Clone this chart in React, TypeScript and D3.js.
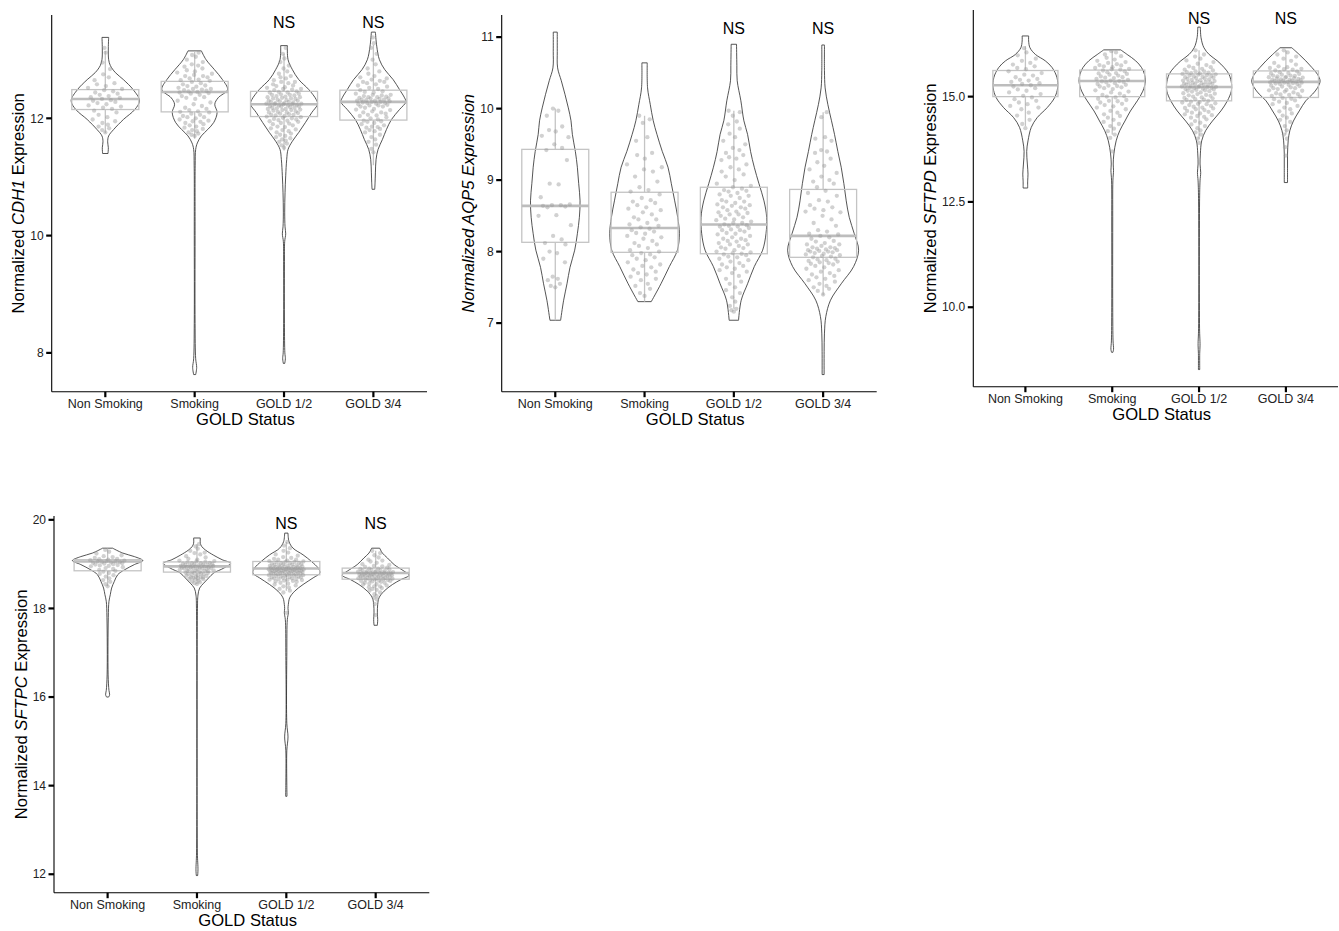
import React from 'react';
import * as d3 from 'd3';

type Prof = [number, number][];

const categories = ['Non Smoking', 'Smoking', 'GOLD 1/2', 'GOLD 3/4'];
const nsGroups = ['GOLD 1/2', 'GOLD 3/4'];
const xTitle = 'GOLD Status';

// ---------- CDH1 ----------
const cdh1Violin: Prof[] = [
  [[13.38,0.1],[13.2,0.09],[13.0,0.1],[12.9,0.15],[12.78,0.3],[12.66,0.54],[12.49,0.83],[12.3,1.02],[12.15,0.88],[11.98,0.54],[11.81,0.25],[11.7,0.1],[11.6,0.07],[11.5,0.09],[11.4,0.08]],
  [[13.15,0.2],[13.0,0.34],[12.83,0.59],[12.66,0.83],[12.49,0.98],[12.35,0.7],[12.24,0.6],[12.1,0.67],[11.93,0.57],[11.81,0.39],[11.7,0.2],[11.58,0.08],[11.47,0.03],[11.2,0.015],[10.0,0.012],[8.5,0.012],[7.9,0.03],[7.75,0.06],[7.63,0.03]],
  [[13.24,0.1],[13.0,0.12],[12.83,0.25],[12.66,0.44],[12.49,0.74],[12.32,0.96],[12.24,1.0],[12.1,0.83],[11.93,0.64],[11.76,0.44],[11.61,0.25],[11.47,0.12],[11.3,0.08],[11.02,0.05],[10.73,0.03],[10.4,0.02],[10.15,0.03],[10.03,0.05],[9.9,0.02],[9.5,0.012],[8.5,0.012],[8.0,0.025],[7.9,0.04],[7.82,0.02]],
  [[13.47,0.06],[13.23,0.1],[13.0,0.18],[12.83,0.34],[12.66,0.59],[12.49,0.78],[12.35,0.93],[12.28,0.97],[12.15,0.78],[11.98,0.54],[11.81,0.39],[11.64,0.27],[11.47,0.14],[11.3,0.08],[11.07,0.06],[10.9,0.05],[10.79,0.04]],
];
// [lower whisker, q1, median, q3, upper whisker]
const cdh1Box = [
  [11.75,12.15,12.33,12.49,13.15],
  [11.65,12.11,12.45,12.63,13.13],
  [11.45,12.03,12.24,12.46,13.1],
  [11.2,11.97,12.28,12.48,13.25],
];
const cdh1Points: number[][] = [
  [13.2,13.12,12.95,12.84,12.75,12.7,12.65,12.6,12.58,12.55,12.52,12.5,12.48,12.46,12.44,12.42,12.4,12.38,12.36,12.35,12.33,12.31,12.3,12.28,12.26,12.24,12.22,12.2,12.18,12.16,12.13,12.1,12.06,12.02,11.98,11.95,11.92,11.89,11.86,11.83,11.8,11.76],
  [13.12,13.08,13.05,13.0,12.96,12.92,12.88,12.85,12.82,12.8,12.78,12.76,12.74,12.72,12.7,12.68,12.66,12.64,12.62,12.6,12.58,12.56,12.54,12.52,12.5,12.49,12.48,12.47,12.46,12.45,12.44,12.42,12.4,12.38,12.36,12.33,12.3,12.27,12.24,12.21,12.18,12.16,12.14,12.12,12.1,12.08,12.06,12.04,12.02,12.0,11.98,11.96,11.94,11.92,11.9,11.88,11.86,11.84,11.82,11.8,11.78,11.76,11.74,11.72,11.7,12.55,12.65,12.5,12.43,12.02,11.95,12.11,12.35,12.9,12.72],
  [13.2,13.1,13.02,12.96,12.9,12.85,12.8,12.76,12.72,12.7,12.68,12.65,12.62,12.6,12.58,12.56,12.55,12.53,12.52,12.5,12.49,12.48,12.46,12.45,12.44,12.42,12.41,12.4,12.39,12.38,12.37,12.36,12.35,12.34,12.33,12.32,12.31,12.3,12.29,12.28,12.27,12.26,12.25,12.25,12.24,12.24,12.23,12.22,12.21,12.2,12.19,12.18,12.17,12.16,12.15,12.14,12.13,12.12,12.11,12.1,12.09,12.08,12.07,12.06,12.05,12.04,12.03,12.02,12.0,11.99,11.98,11.96,11.95,11.94,11.92,11.91,11.9,11.88,11.86,11.85,11.83,11.81,11.8,11.78,11.76,11.74,11.72,11.7,11.68,11.66,11.64,11.62,11.6,11.57,11.54,11.5,12.34,12.26,12.18,12.28,12.22,12.4,12.1,12.3,12.2,12.06,12.44,12.14,11.97,12.5,12.62,12.01,12.16,12.36,12.24],
  [13.38,13.28,13.2,13.1,13.0,12.92,12.85,12.8,12.76,12.72,12.68,12.66,12.64,12.62,12.6,12.58,12.56,12.54,12.52,12.5,12.48,12.46,12.44,12.42,12.4,12.39,12.38,12.37,12.36,12.35,12.34,12.33,12.32,12.31,12.3,12.29,12.28,12.27,12.26,12.25,12.24,12.23,12.22,12.2,12.18,12.16,12.14,12.12,12.1,12.08,12.06,12.04,12.02,12.0,11.98,11.96,11.94,11.92,11.9,11.88,11.86,11.84,11.82,11.8,11.78,11.76,11.72,11.68,11.64,11.6,11.55,11.48,11.42,12.3,12.26,12.34,12.22,12.45,12.15,12.05,11.95,12.28,12.4,12.62,11.85,12.7,12.2,12.36,12.1,12.32],
];
const cdh1Ticks = [8, 10, 12];
const cdh1NSY = 13.54;

// ---------- AQP5 ----------
const aqp5Violin: Prof[] = [
  [[11.07,0.06],[10.8,0.06],[10.57,0.07],[10.39,0.18],[10.2,0.29],[10.01,0.39],[9.83,0.47],[9.64,0.51],[9.4,0.6],[9.18,0.66],[8.95,0.7],[8.71,0.74],[8.48,0.72],[8.25,0.66],[8.02,0.58],[7.78,0.44],[7.55,0.35],[7.32,0.25],[7.04,0.16]],
  [[10.64,0.08],[10.29,0.09],[10.06,0.17],[9.83,0.26],[9.64,0.37],[9.4,0.53],[9.18,0.7],[8.95,0.8],[8.71,0.9],[8.48,0.99],[8.25,1.04],[8.02,0.98],[7.79,0.74],[7.55,0.49],[7.3,0.2]],
  [[10.9,0.08],[10.6,0.09],[10.39,0.1],[10.11,0.21],[9.83,0.3],[9.64,0.41],[9.4,0.5],[9.18,0.61],[8.95,0.75],[8.71,0.9],[8.48,0.98],[8.25,0.96],[8.02,0.86],[7.79,0.61],[7.55,0.41],[7.32,0.22],[7.04,0.14]],
  [[10.89,0.04],[10.53,0.04],[10.29,0.06],[10.06,0.14],[9.83,0.25],[9.64,0.34],[9.4,0.44],[9.18,0.54],[8.95,0.62],[8.71,0.69],[8.48,0.78],[8.25,0.93],[8.02,1.06],[7.79,0.91],[7.55,0.54],[7.32,0.22],[7.09,0.08],[6.86,0.04],[6.6,0.03],[6.28,0.03]],
];
const aqp5Box = [
  [7.04,8.13,8.64,9.43,10.0],
  [7.3,7.99,8.33,8.83,9.9],
  [7.2,7.97,8.38,8.9,9.97],
  [7.39,7.92,8.22,8.87,9.95],
];
const aqp5Points: number[][] = [
  [10.0,9.97,9.9,9.75,9.7,9.68,9.62,9.6,9.5,9.45,9.42,9.28,8.95,8.94,8.76,8.66,8.65,8.65,8.64,8.63,8.62,8.51,8.5,8.37,8.22,8.17,8.12,8.1,8.0,7.98,7.9,7.85,7.65,7.62,7.6,7.55,7.52,7.5],
  [9.9,9.85,9.8,9.6,9.55,9.38,9.35,9.3,9.22,9.18,9.15,9.12,9.05,8.98,8.9,8.86,8.84,8.8,8.75,8.7,8.68,8.65,8.62,8.6,8.58,8.55,8.52,8.48,8.45,8.4,8.38,8.36,8.34,8.32,8.3,8.28,8.25,8.22,8.2,8.18,8.15,8.12,8.1,8.08,8.05,8.02,8.0,7.98,7.95,7.92,7.9,7.88,7.85,7.82,7.8,7.78,7.75,7.72,7.7,7.68,7.65,7.62,7.6,7.55,7.52,7.48,7.42,7.38,8.45,8.72,7.96,8.26],
  [9.97,9.95,9.9,9.82,9.78,9.72,9.65,9.6,9.55,9.5,9.45,9.42,9.38,9.32,9.3,9.28,9.22,9.18,9.12,9.08,9.05,9.0,8.95,8.9,8.88,8.86,8.84,8.82,8.8,8.78,8.75,8.72,8.7,8.68,8.66,8.64,8.62,8.6,8.58,8.56,8.54,8.52,8.5,8.48,8.46,8.44,8.42,8.4,8.38,8.37,8.36,8.35,8.33,8.31,8.3,8.28,8.26,8.24,8.22,8.2,8.18,8.16,8.14,8.12,8.1,8.08,8.06,8.04,8.02,8.0,7.98,7.97,7.96,7.95,7.93,7.9,7.88,7.86,7.84,7.82,7.8,7.78,7.76,7.74,7.72,7.7,7.66,7.62,7.58,7.55,7.5,7.46,7.42,7.36,7.3,7.24,7.2,7.18,7.16,8.85,8.65,8.55,8.45,8.35,8.25,8.15,8.05,7.92,8.62,8.4,8.3,8.78,8.18,7.99,8.52,8.1,9.35,9.15,8.92,8.7],
  [9.95,9.88,9.6,9.58,9.55,9.42,9.4,9.38,9.25,9.2,9.15,9.1,9.05,9.0,8.98,8.95,8.85,8.82,8.78,8.72,8.7,8.65,8.6,8.58,8.56,8.55,8.5,8.4,8.36,8.3,8.28,8.25,8.22,8.2,8.18,8.15,8.12,8.1,8.08,8.06,8.05,8.04,8.03,8.02,8.01,8.0,7.99,7.98,7.97,7.96,7.95,7.93,7.92,7.9,7.88,7.87,7.86,7.85,7.84,7.82,7.8,7.78,7.76,7.74,7.72,7.7,7.68,7.66,7.64,7.62,7.6,7.58,7.55,7.52,7.5,7.48,7.45,7.4,8.0,8.02,8.06,7.94,7.89,8.14,8.24,8.45,8.62,7.83,8.9,9.3,8.1],
];
const aqp5Ticks = [7, 8, 9, 10, 11];
const aqp5NSY = 11.04;

// ---------- SFTPD ----------
const sftpdViolin: Prof[] = [
  [[16.44,0.1],[16.32,0.1],[16.16,0.14],[16.0,0.31],[15.85,0.61],[15.69,0.82],[15.45,0.97],[15.21,0.99],[14.98,0.9],[14.74,0.67],[14.5,0.36],[14.27,0.18],[13.95,0.08],[13.7,0.04],[13.4,0.06],[13.16,0.08],[13.0,0.07],[12.83,0.07]],
  [[16.11,0.26],[16.0,0.46],[15.85,0.72],[15.69,0.9],[15.53,0.99],[15.37,1.02],[15.13,0.94],[14.9,0.77],[14.66,0.56],[14.42,0.39],[14.19,0.23],[13.95,0.12],[13.64,0.05],[13.4,0.03],[13.25,0.04],[13.0,0.02],[12.0,0.015],[10.0,0.015],[9.2,0.025],[9.0,0.04],[8.93,0.02]],
  [[16.65,0.04],[16.4,0.06],[16.16,0.15],[16.0,0.31],[15.85,0.56],[15.69,0.77],[15.53,0.92],[15.29,1.0],[15.13,0.99],[14.9,0.87],[14.66,0.67],[14.42,0.41],[14.19,0.2],[13.95,0.08],[13.64,0.04],[13.4,0.03],[13.2,0.05],[13.0,0.03],[12.5,0.015],[9.5,0.015],[9.1,0.03],[8.9,0.02],[8.52,0.02]],
  [[16.16,0.18],[16.0,0.41],[15.85,0.61],[15.69,0.8],[15.53,0.97],[15.37,1.05],[15.21,0.97],[15.06,0.82],[14.9,0.61],[14.66,0.41],[14.42,0.23],[14.19,0.12],[13.95,0.07],[13.64,0.05],[13.3,0.05],[12.96,0.05]],
];
const sftpdBox = [
  [14.3,15.0,15.27,15.62,16.2],
  [14.1,15.0,15.37,15.63,16.1],
  [14.0,14.9,15.23,15.54,16.1],
  [14.1,14.98,15.35,15.61,16.1],
];
const sftpdPoints: number[][] = [
  [16.15,16.05,15.98,15.9,15.85,15.8,15.76,15.72,15.68,15.65,15.6,15.56,15.52,15.5,15.46,15.42,15.38,15.35,15.32,15.3,15.27,15.24,15.2,15.17,15.14,15.1,15.06,15.02,14.98,14.94,14.9,14.86,14.82,14.78,14.74,14.7,14.62,14.55,14.45,14.35,14.25,15.4],
  [16.08,16.05,16.0,15.96,15.92,15.88,15.85,15.82,15.8,15.77,15.74,15.72,15.7,15.68,15.66,15.64,15.62,15.6,15.58,15.56,15.54,15.52,15.5,15.48,15.46,15.44,15.42,15.4,15.38,15.37,15.36,15.34,15.32,15.3,15.28,15.26,15.24,15.22,15.2,15.18,15.15,15.12,15.1,15.07,15.04,15.01,14.98,14.95,14.92,14.89,14.86,14.83,14.8,14.77,14.74,14.7,14.66,14.62,14.58,14.54,14.5,14.45,14.4,14.35,14.3,14.24,14.18,14.1,14.02,15.45,15.55,15.65,15.35,15.25,15.75,14.9,15.0,13.7],
  [16.1,16.0,15.95,15.9,15.86,15.82,15.78,15.75,15.72,15.7,15.68,15.66,15.64,15.62,15.6,15.58,15.57,15.56,15.55,15.54,15.52,15.5,15.49,15.48,15.46,15.45,15.44,15.42,15.41,15.4,15.38,15.37,15.36,15.35,15.34,15.32,15.31,15.3,15.29,15.28,15.27,15.26,15.25,15.24,15.23,15.22,15.21,15.2,15.19,15.18,15.16,15.15,15.14,15.12,15.1,15.08,15.06,15.04,15.02,15.0,14.98,14.96,14.94,14.92,14.9,14.88,14.86,14.84,14.82,14.8,14.78,14.76,14.74,14.72,14.7,14.68,14.66,14.64,14.62,14.6,14.58,14.56,14.54,14.52,14.5,14.46,14.42,14.38,14.34,14.3,14.25,14.2,14.15,14.1,14.0,13.9,15.53,15.43,15.33,15.23,15.13,15.03,14.93,14.83,15.47,15.39,15.28,15.17,15.07,14.97,14.87,14.73,15.6,15.51,15.34,15.21],
  [16.1,16.05,16.0,15.95,15.9,15.85,15.8,15.76,15.72,15.7,15.68,15.66,15.64,15.62,15.6,15.58,15.56,15.54,15.52,15.5,15.49,15.48,15.47,15.46,15.45,15.44,15.43,15.42,15.41,15.4,15.39,15.38,15.37,15.36,15.35,15.34,15.33,15.32,15.31,15.3,15.28,15.26,15.24,15.22,15.2,15.18,15.16,15.14,15.12,15.1,15.08,15.06,15.04,15.02,15.0,14.97,14.94,14.91,14.88,14.85,14.82,14.78,14.74,14.7,14.65,14.6,14.55,14.5,14.45,14.4,14.3,14.2,14.1,14.0,13.8,13.6,15.4,15.36,15.3,15.45,15.25,15.55,15.2,15.38,15.33,15.5,15.15,14.95,15.65,15.05],
];
const sftpdTicks = [10, 12.5, 15];
const sftpdNSY = 16.72;

// ---------- SFTPC ----------
const sftpcViolin: Prof[] = [
  [[19.36,0.15],[19.25,0.45],[19.17,0.8],[19.08,1.05],[18.99,0.8],[18.87,0.5],[18.76,0.3],[18.61,0.2],[18.46,0.12],[18.31,0.08],[18.16,0.04],[17.8,0.02],[16.5,0.015],[16.15,0.04],[16.05,0.06],[16.0,0.03]],
  [[19.59,0.1],[19.47,0.1],[19.4,0.14],[19.32,0.25],[19.2,0.5],[19.1,0.75],[19.02,1.0],[18.91,0.8],[18.8,0.5],[18.69,0.35],[18.57,0.2],[18.46,0.08],[18.3,0.03],[18.0,0.015],[12.5,0.012],[12.1,0.03],[11.97,0.02]],
  [[19.7,0.05],[19.51,0.08],[19.36,0.2],[19.21,0.5],[19.06,0.75],[18.91,0.95],[18.8,1.0],[18.69,0.8],[18.54,0.5],[18.39,0.25],[18.24,0.1],[18.09,0.06],[18.0,0.05],[17.9,0.06],[17.75,0.03],[17.0,0.015],[15.4,0.015],[15.1,0.05],[14.8,0.015],[14.0,0.015],[13.76,0.02]],
  [[19.36,0.12],[19.25,0.2],[19.14,0.35],[18.99,0.55],[18.84,0.85],[18.75,1.0],[18.65,0.75],[18.54,0.5],[18.39,0.25],[18.24,0.1],[18.09,0.06],[17.9,0.05],[17.75,0.06],[17.62,0.05]],
];
const sftpcBox = [
  [18.5,18.85,19.06,19.1,19.35],
  [18.55,18.82,18.95,19.05,19.45],
  [18.4,18.76,18.9,19.06,19.5],
  [18.3,18.66,18.8,18.91,19.3],
];
const sftpcPoints: number[][] = [
  [19.32,19.28,19.24,19.2,19.18,19.16,19.14,19.12,19.11,19.1,19.09,19.08,19.07,19.06,19.05,19.05,19.04,19.03,19.02,19.01,19.0,18.99,18.98,18.97,18.96,18.95,18.93,18.91,18.89,18.87,18.85,18.83,18.8,18.78,18.75,18.72,18.68,18.64,18.6,18.55,18.5,19.06],
  [19.45,19.4,19.35,19.3,19.26,19.22,19.18,19.15,19.12,19.1,19.08,19.06,19.05,19.04,19.03,19.02,19.01,19.0,18.99,18.98,18.97,18.96,18.95,18.95,18.94,18.93,18.92,18.91,18.9,18.89,18.88,18.87,18.86,18.85,18.84,18.83,18.82,18.81,18.8,18.79,18.78,18.77,18.76,18.75,18.74,18.73,18.72,18.71,18.7,18.69,18.68,18.67,18.66,18.65,18.63,18.61,18.59,18.57,18.55,18.96,18.92,18.88,19.0,18.97,18.93,18.9,18.85,19.02,18.8,18.7,19.07,18.98,18.91,18.86,19.25],
  [19.5,19.42,19.36,19.3,19.26,19.22,19.19,19.16,19.14,19.12,19.1,19.08,19.07,19.06,19.05,19.04,19.03,19.02,19.01,19.0,18.99,18.98,18.97,18.96,18.95,18.94,18.93,18.92,18.91,18.9,18.9,18.89,18.88,18.88,18.87,18.86,18.86,18.85,18.85,18.84,18.84,18.83,18.82,18.82,18.81,18.8,18.8,18.79,18.78,18.77,18.76,18.75,18.74,18.73,18.72,18.71,18.7,18.69,18.68,18.67,18.66,18.65,18.64,18.63,18.62,18.61,18.6,18.58,18.56,18.54,18.52,18.5,18.47,18.44,18.4,18.36,18.93,18.91,18.87,18.83,18.79,18.95,18.89,18.86,18.81,18.77,19.0,18.97,18.92,18.84,18.74,18.7,18.9,18.85,18.8,18.75,19.02,18.96,18.88,18.82,18.78,18.72,18.68,18.65,19.1,19.05,18.94,18.87,17.9],
  [19.3,19.25,19.2,19.15,19.1,19.06,19.03,19.0,18.98,18.96,18.94,18.92,18.9,18.89,18.88,18.87,18.86,18.85,18.84,18.83,18.82,18.81,18.8,18.8,18.79,18.78,18.78,18.77,18.76,18.76,18.75,18.75,18.74,18.73,18.72,18.71,18.7,18.69,18.68,18.67,18.66,18.65,18.64,18.63,18.62,18.61,18.6,18.58,18.56,18.54,18.52,18.5,18.48,18.46,18.44,18.42,18.4,18.36,18.32,18.28,18.24,18.2,18.8,18.77,18.74,18.71,18.68,18.82,18.79,18.73,18.7,18.66,18.86,18.62,18.9,18.58,18.84,18.76,18.72,18.64,18.95,18.55,19.08,18.5,18.81,18.69,17.85,18.1],
];
const sftpcTicks = [12, 14, 16, 18, 20];
const sftpcNSY = 19.8;

const FONT = '"Liberation Sans", Arial, Helvetica, sans-serif';

function vdc(n: number): number {
  let v = 0, denom = 1;
  while (n > 0) { denom *= 2; v += (n % 2) / denom; n = Math.floor(n / 2); }
  return v;
}

type PanelProps = {
  left: number; right: number; top: number; bottom: number;
  violins: Prof[]; boxes: number[][]; points: number[][];
  ticks: number[]; tickFmt: (v: number) => string;
  gene: string; allItalic?: boolean; nsY: number; yTitleGap: number;
};

function Panel(p: PanelProps) {
  const { left, right, top, bottom } = p;
  const allVals = p.violins.flatMap(v => v.map(d => d[0]));
  const lo = d3.min(allVals)!, hi = d3.max(allVals)!;
  const pad = (hi - lo) * 0.05;
  const y = d3.scaleLinear().domain([lo - pad, hi + pad]).range([bottom, top]);
  const x = d3.scalePoint<string>().domain(categories).range([left, right]).padding(0.6);
  const step = x.step();
  const bh = step * 0.375;

  const elems: React.ReactNode[] = [];
  categories.forEach((c, i) => {
    const cx = x(c)!;
    const prof = p.violins[i];
    const area = d3.area<[number, number]>()
      .y(d => y(d[0]))
      .x0(d => cx - d[1] * bh)
      .x1(d => cx + d[1] * bh)
      .curve(d3.curveCatmullRom);
    const [wl, q1, med, q3, wh] = p.boxes[i];
    const asc = prof.slice().sort((a, b) => a[0] - b[0]);
    const wScale = d3.scaleLinear().domain(asc.map(d => d[0])).range(asc.map(d => d[1])).clamp(true);
    const pts = p.points[i].map((v, j) => ({ v, j })).sort((a, b) => a.v - b.v);
    elems.push(
      <g key={c}>
        <path d={area(prof) || ''} fill="none" stroke="#2a2a2a" strokeWidth={0.8} />
        <line x1={cx} x2={cx} y1={y(q3)} y2={y(wh)} stroke="#c4c4c4" strokeWidth={1.3} />
        <line x1={cx} x2={cx} y1={y(q1)} y2={y(wl)} stroke="#c4c4c4" strokeWidth={1.3} />
        <rect x={cx - bh} y={y(q3)} width={2 * bh} height={y(q1) - y(q3)} fill="none" stroke="#c4c4c4" strokeWidth={1.3} />
        <line x1={cx - bh} x2={cx + bh} y1={y(med)} y2={y(med)} stroke="#bdbdbd" strokeWidth={2.6} />
        {pts.map((pt, r) => {
          const hw = wScale(pt.v) * bh;
          const spread = Math.min(0.8 * hw, 0.2 * step);
          const off = (vdc(r + 1) * 2 - 1) * spread;
          return <circle key={r} cx={cx + off} cy={y(pt.v)} r={2.15} fill="#9a9a9a" fillOpacity={0.45} />;
        })}
      </g>
    );
  });

  const cyMid = (top + bottom) / 2;
  const titleX = left - p.yTitleGap;
  return (
    <g fontFamily={FONT}>
      {elems}
      <line x1={left} x2={left} y1={top} y2={bottom} stroke="#000" strokeWidth={1.1} />
      <line x1={left} x2={right} y1={bottom} y2={bottom} stroke="#000" strokeWidth={1.1} />
      {p.ticks.map(t => (
        <g key={t}>
          <line x1={left - 5.5} x2={left} y1={y(t)} y2={y(t)} stroke="#000" strokeWidth={2.2} />
          <text x={left - 8} y={y(t)} dy="0.35em" textAnchor="end" fontSize={12} fill="#222">{p.tickFmt(t)}</text>
        </g>
      ))}
      {categories.map(c => (
        <g key={c}>
          <line x1={x(c)!} x2={x(c)!} y1={bottom} y2={bottom + 5.5} stroke="#000" strokeWidth={2.2} />
          <text x={x(c)!} y={bottom + 16.5} textAnchor="middle" fontSize={12.5} fill="#222">{c}</text>
        </g>
      ))}
      {nsGroups.map(c => (
        <text key={c} x={x(c)!} y={y(p.nsY)} textAnchor="middle" fontSize={16} fill="#000">NS</text>
      ))}
      <text x={(left + right) / 2 + 6} y={bottom + 33.5} textAnchor="middle" fontSize={16.6} fill="#000">{xTitle}</text>
      <text transform={`translate(${titleX},${cyMid}) rotate(-90)`} textAnchor="middle" fontSize={16.6} fill="#000" fontStyle={p.allItalic ? 'italic' : 'normal'}>
        {'Normalized '}<tspan fontStyle="italic">{p.gene}</tspan>{' Expression'}
      </text>
    </g>
  );
}

export default function App() {
  const intFmt = (v: number) => String(v);
  const oneDec = (v: number) => v.toFixed(1);
  return (
    <svg width={1339} height={931} style={{ position: 'absolute', left: 0, top: 0, background: '#fff' }}>
      <rect width={1339} height={931} fill="#fff" />
      <Panel left={51.7} right={427} top={15} bottom={391.7} violins={cdh1Violin} boxes={cdh1Box} points={cdh1Points}
        ticks={cdh1Ticks} tickFmt={intFmt} gene="CDH1" nsY={cdh1NSY} yTitleGap={27.7} />
      <Panel left={501.7} right={876.7} top={15} bottom={391.7} violins={aqp5Violin} boxes={aqp5Box} points={aqp5Points}
        ticks={aqp5Ticks} tickFmt={intFmt} gene="AQP5" allItalic nsY={aqp5NSY} yTitleGap={27.7} />
      <Panel left={973.3} right={1338} top={10} bottom={386.7} violins={sftpdViolin} boxes={sftpdBox} points={sftpdPoints}
        ticks={sftpdTicks} tickFmt={oneDec} gene="SFTPD" nsY={sftpdNSY} yTitleGap={37} />
      <Panel left={54} right={429.3} top={516} bottom={892.7} violins={sftpcViolin} boxes={sftpcBox} points={sftpcPoints}
        ticks={sftpcTicks} tickFmt={intFmt} gene="SFTPC" nsY={sftpcNSY} yTitleGap={27} />
    </svg>
  );
}
